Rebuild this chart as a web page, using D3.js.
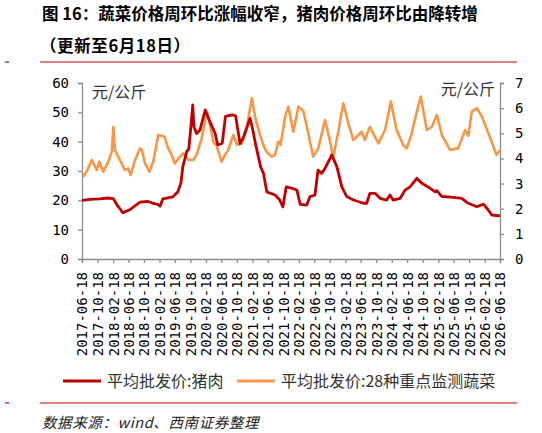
<!DOCTYPE html>
<html>
<head>
<meta charset="utf-8">
<script src="https://cdn.jsdelivr.net/npm/d3@7"></script>
<style>
  body { margin: 0; background: #fff; }
  svg { display: block; }
</style>
</head>
<body>
<svg id="chart" width="542" height="433"></svg>
<script>
// pork wholesale price (left axis, yuan/kg)
const porkDates = ["2017-06-18","2017-08-20","2017-11-05","2018-01-08","2018-02-18","2018-03-27","2018-05-05","2018-06-30","2018-09-17","2018-11-20","2018-12-28","2019-02-05","2019-02-22","2019-03-16","2019-06-03","2019-07-12","2019-08-05","2019-08-20","2019-09-20","2019-10-06","2019-10-24","2019-11-06","2019-11-15","2019-12-06","2020-01-02","2020-02-12","2020-03-25","2020-04-30","2020-05-20","2020-06-25","2020-07-20","2020-09-10","2020-10-08","2020-10-30","2020-11-12","2020-12-10","2021-01-30","2021-02-20","2021-03-18","2021-04-22","2021-05-15","2021-06-10","2021-08-14","2021-09-20","2021-10-15","2021-11-10","2021-12-27","2022-02-02","2022-02-28","2022-04-20","2022-05-16","2022-06-24","2022-07-18","2022-08-16","2022-09-11","2022-10-21","2022-11-03","2022-12-13","2023-01-21","2023-03-01","2023-04-22","2023-07-10","2023-08-05","2023-08-30","2023-10-09","2023-11-18","2024-01-09","2024-02-04","2024-02-28","2024-04-24","2024-06-02","2024-07-11","2024-09-02","2024-10-11","2024-12-16","2025-01-25","2025-02-06","2025-03-18","2025-06-18","2025-08-21","2025-10-12","2025-12-18","2026-02-08","2026-03-18","2026-04-14","2026-06-18"];
const porkValues = [20.0,20.3,20.5,20.8,20.6,18.0,15.8,16.8,19.4,19.6,19.0,18.6,18.0,20.5,21.2,22.9,26.0,31.5,36.7,37.5,46.0,52.5,45.1,42.8,44.0,50.8,46.3,42.8,38.9,39.5,48.6,49.1,48.8,42.8,39.3,41.6,48.0,44.0,38.3,31.5,29.2,22.9,21.8,20.1,17.8,24.6,24.1,23.5,18.6,18.4,21.3,21.8,30.3,29.2,30.9,34.3,35.5,31.5,24.6,21.3,20.1,19.0,19.0,22.4,22.4,20.7,20.1,21.8,20.1,20.7,23.5,24.6,27.5,25.8,24.1,22.9,23.3,21.3,21.0,20.7,19.0,17.8,18.7,16.7,15.0,14.7];

// 28 key vegetables wholesale price (right axis, yuan/kg)
const vegDates = ["2017-06-28","2017-07-27","2017-09-02","2017-10-12","2017-11-01","2017-12-03","2018-01-11","2018-02-07","2018-02-20","2018-03-04","2018-04-12","2018-05-21","2018-06-17","2018-07-06","2018-08-09","2018-09-18","2018-09-30","2018-10-27","2018-11-30","2018-12-30","2019-02-08","2019-03-30","2019-04-27","2019-05-24","2019-06-18","2019-07-28","2019-08-24","2019-10-03","2019-11-12","2019-12-06","2020-01-15","2020-02-24","2020-03-21","2020-04-16","2020-05-12","2020-06-20","2020-07-17","2020-08-11","2020-09-20","2020-10-18","2020-11-26","2021-01-04","2021-02-13","2021-03-10","2021-04-18","2021-05-13","2021-06-08","2021-07-18","2021-08-14","2021-09-09","2021-09-27","2021-11-01","2021-11-27","2022-01-05","2022-02-14","2022-03-24","2022-05-02","2022-06-10","2022-07-20","2022-09-11","2022-10-06","2022-11-15","2022-12-22","2023-02-02","2023-03-13","2023-04-22","2023-06-27","2023-07-21","2023-08-30","2023-11-05","2023-12-27","2024-02-11","2024-03-27","2024-05-18","2024-06-14","2024-07-18","2024-09-02","2024-10-03","2024-11-20","2024-12-30","2025-02-06","2025-03-18","2025-05-21","2025-07-24","2025-09-17","2025-10-12","2025-11-08","2025-12-18","2026-01-27","2026-03-30","2026-05-21","2026-06-18"];
const vegValues = [3.27,3.5,3.94,3.54,3.87,3.47,3.87,4.27,5.26,4.34,3.94,3.54,3.6,3.34,3.94,4.4,4.35,3.8,3.47,3.87,4.93,4.86,4.4,4.14,3.8,4.07,4.2,3.94,3.94,4.14,4.8,5.86,5.33,4.67,4.5,3.87,4.14,4.34,4.93,4.54,4.6,5.26,6.39,5.66,4.93,4.54,4.27,4.07,4.14,4.67,4.54,5.66,6.06,5.06,6.06,5.9,5.0,4.07,4.4,5.53,5.0,4.07,5.0,6.19,5.4,4.73,5.06,4.73,5.26,4.6,5.13,6.26,5.13,4.53,4.4,4.9,5.86,6.46,5.13,5.26,5.73,4.93,4.34,4.4,5.13,4.9,5.86,6.0,5.66,4.86,4.14,4.34];

const xTickLabels = ["2017-06-18","2017-10-18","2018-02-18","2018-06-18","2018-10-18","2019-02-18","2019-06-18","2019-10-18","2020-02-18","2020-06-18","2020-10-18","2021-02-18","2021-06-18","2021-10-18","2022-02-18","2022-06-18","2022-10-18","2023-02-18","2023-06-18","2023-10-18","2024-02-18","2024-06-18","2024-10-18","2025-02-18","2025-06-18","2025-10-18","2026-02-18","2026-06-18"];
const leftTicks = [0, 10, 20, 30, 40, 50, 60];
const rightTicks = [0, 1, 2, 3, 4, 5, 6, 7];

const title1 = "图 16：蔬菜价格周环比涨幅收窄，猪肉价格周环比由降转增";
const title2 = "（更新至6月18日）";
const porkName = "平均批发价:猪肉";
const vegName = "平均批发价:28种重点监测蔬菜";
const unit = "元/公斤";
const source = "数据来源：wind、西南证券整理";

const red = "#C00000";
const orange = "#F79646";
const axisGray = "#8c8c8c";
const cjk = "'Noto Sans CJK SC', 'Noto Sans', sans-serif";
const mono = "'DejaVu Sans Mono', monospace";

const parse = d3.timeParse("%Y-%m-%d");
const svg = d3.select("#chart");

const plotLeft = 82, plotRight = 500, plotTop = 83, plotBottom = 259;

const x = d3.scaleTime()
    .domain([parse("2017-06-18"), parse("2026-06-18")])
    .range([plotLeft, plotRight]);
const yL = d3.scaleLinear().domain([0, 60]).range([plotBottom, plotTop]);
const yR = d3.scaleLinear().domain([0, 7]).range([plotBottom, plotTop]);

// header
svg.append("text").attr("x", 42).attr("y", 20)
    .style("font-family", cjk).style("font-weight", "bold").style("font-size", "16.5px")
    .text(title1);
svg.append("text").attr("x", 40).attr("y", 52)
    .style("font-family", cjk).style("font-weight", "bold").style("font-size", "16.5px")
    .style("letter-spacing", "0.6px")
    .text(title2);

// red rules
function rule(y) {
    svg.append("line").attr("x1", 5).attr("x2", 9).attr("y1", y).attr("y2", y)
        .attr("stroke", red).attr("stroke-width", 1.2);
    svg.append("line").attr("x1", 40).attr("x2", 517).attr("y1", y).attr("y2", y)
        .attr("stroke", red).attr("stroke-width", 1.2);
}
rule(62);
rule(403);

// axes
const styleAxis = g => {
    g.select(".domain").attr("stroke", axisGray).attr("stroke-width", 1.3);
    g.selectAll(".tick line").attr("stroke", axisGray).attr("stroke-width", 1.3);
    g.selectAll("text").style("font-family", mono).style("font-size", "14px").attr("fill", "#000");
};

svg.append("g")
    .attr("transform", "translate(" + plotLeft + ",0)")
    .call(d3.axisLeft(yL).tickValues(leftTicks).tickSizeOuter(0).tickSize(4).tickPadding(9))
    .call(styleAxis);

svg.append("g")
    .attr("transform", "translate(" + plotRight + ",0)")
    .call(d3.axisRight(yR).tickValues(rightTicks).tickFormat(d3.format("d"))
        .tickSizeOuter(0).tickSize(4).tickPadding(11))
    .call(styleAxis);

const xAxis = svg.append("g")
    .attr("transform", "translate(0," + plotBottom + ")")
    .call(d3.axisBottom(x)
        .tickValues(xTickLabels.map(parse))
        .tickFormat(d3.timeFormat("%Y-%m-%d"))
        .tickSizeOuter(0).tickSize(4))
    .call(styleAxis);
xAxis.selectAll(".tick text")
    .attr("text-anchor", "end")
    .attr("transform", "rotate(-90)")
    .attr("x", -13)
    .attr("y", 0)
    .attr("dy", "0.35em");

// unit labels
svg.append("text").attr("x", 92).attr("y", 98)
    .style("font-family", cjk).style("font-size", "16px").attr("fill", "#333")
    .text(unit);
svg.append("text").attr("x", 495).attr("y", 95).attr("text-anchor", "end")
    .style("font-family", cjk).style("font-size", "16px").attr("fill", "#333")
    .text(unit);

// lines
const porkLine = d3.line()
    .x((d, i) => x(parse(porkDates[i])))
    .y(d => yL(d));
const vegLine = d3.line()
    .x((d, i) => x(parse(vegDates[i])))
    .y(d => yR(d));

svg.append("path").datum(vegValues)
    .attr("d", vegLine).attr("fill", "none")
    .attr("stroke", orange).attr("stroke-width", 2.6).attr("stroke-linejoin", "round");
svg.append("path").datum(porkValues)
    .attr("d", porkLine).attr("fill", "none")
    .attr("stroke", red).attr("stroke-width", 2.8).attr("stroke-linejoin", "round");

// legend
const legend = [
    {name: porkName, color: red, x: 63},
    {name: vegName, color: orange, x: 237}
];
const lg = svg.append("g").selectAll("g").data(legend).join("g")
    .attr("transform", d => "translate(" + d.x + ",381)");
lg.append("line").attr("x1", 0).attr("x2", 38).attr("y1", 0).attr("y2", 0)
    .attr("stroke", d => d.color).attr("stroke-width", 3);
lg.append("text").attr("x", 44).attr("y", 5.8)
    .style("font-family", cjk).style("font-size", "16px").attr("fill", "#333")
    .text(d => d.name);

// footer
svg.append("text").attr("x", 42).attr("y", 428)
    .style("font-family", cjk).style("font-size", "14.5px").style("font-style", "italic")
    .style("letter-spacing", "0.6px")
    .attr("fill", "#222")
    .text(source);
</script>
</body>
</html>
